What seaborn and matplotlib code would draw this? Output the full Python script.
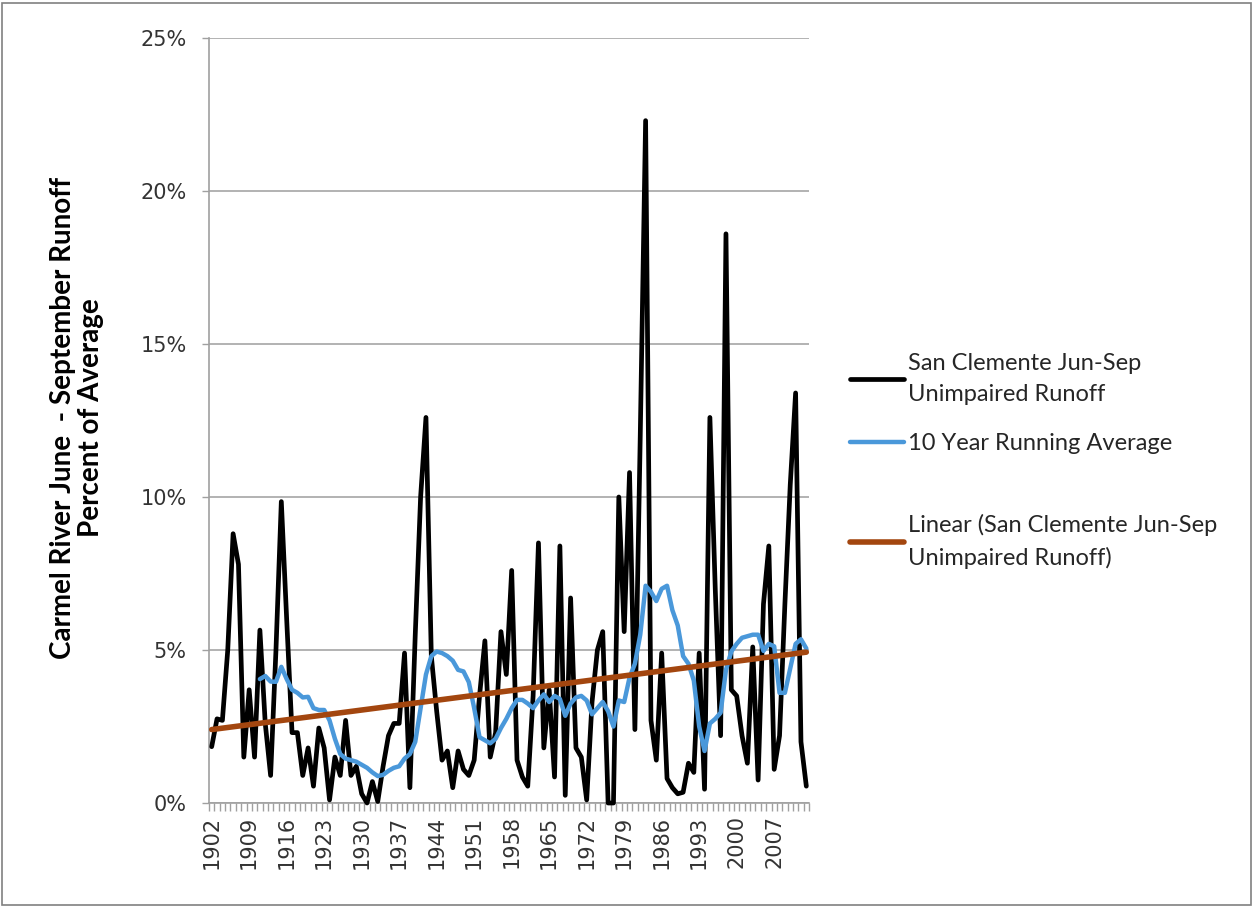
import numpy as np
import pandas as pd
import matplotlib
matplotlib.use("Agg")
import matplotlib.pyplot as plt
import matplotlib.ticker as mticker
from matplotlib.patches import Rectangle
import seaborn as sns

# Datos (porcentaje del promedio)
years = list(range(1902, 2014))
runoff_pct = [
    1.84, 2.75, 2.7, 5.0, 8.8, 7.8, 1.5, 3.7, 1.5, 5.65,
    2.6, 0.9, 5.0, 9.85, 6.0, 2.3, 2.3, 0.9, 1.8, 0.55,
    2.45, 1.8, 0.1, 1.5, 0.9, 2.7, 0.9, 1.2, 0.3, 0.0,
    0.7, 0.05, 1.2, 2.2, 2.6, 2.6, 4.9, 0.5, 5.5, 10.0,
    12.6, 4.8, 3.0, 1.4, 1.7, 0.5, 1.7, 1.1, 0.9, 1.4,
    3.5, 5.3, 1.5, 2.3, 5.6, 4.2, 7.6, 1.4, 0.85, 0.55,
    3.5, 8.5, 1.8, 3.7, 0.85, 8.4, 0.25, 6.7, 1.8, 1.5,
    0.1, 3.3, 5.0, 5.6, 0.0, 0.0, 10.0, 5.6, 10.8, 2.4,
    12.0, 22.3, 2.7, 1.4, 4.9, 0.8, 0.5, 0.3, 0.35, 1.3,
    1.0, 4.9, 0.45, 12.6, 7.0, 2.2, 18.6, 3.7, 3.5, 2.2,
    1.3, 5.1, 0.75, 6.5, 8.4, 1.1, 2.2, 6.5, 10.4, 13.4,
    2.0, 0.55,
]

avg_years = list(range(1911, 2014))
running_avg_pct = [
    4.05, 4.15, 3.97, 3.96, 4.45, 4.05, 3.7, 3.6, 3.45, 3.47,
    3.1, 3.04, 3.04, 2.7, 2.1, 1.6, 1.45, 1.4, 1.35, 1.25,
    1.15, 1.0, 0.88, 0.92, 1.05, 1.15, 1.2, 1.45, 1.6, 2.0,
    3.1, 4.2, 4.8, 4.95, 4.9, 4.8, 4.65, 4.35, 4.3, 3.95,
    3.1, 2.15, 2.05, 1.95, 2.1, 2.45, 2.75, 3.1, 3.37, 3.37,
    3.25, 3.1, 3.35, 3.55, 3.3, 3.5, 3.4, 2.85, 3.25, 3.45,
    3.5, 3.35, 2.9, 3.1, 3.3, 3.0, 2.5, 3.35, 3.3, 4.1,
    4.55, 5.5, 7.1, 6.9, 6.6, 7.0, 7.1, 6.3, 5.8, 4.8,
    4.55, 4.0, 2.5, 1.7, 2.6, 2.75, 2.95, 4.35, 4.95, 5.2,
    5.4, 5.45, 5.5, 5.5, 4.97, 5.2, 5.12, 3.6, 3.6, 4.4,
    5.2, 5.35, 5.05,
]

trend_years = [1902, 2013]
trend_pct = [2.4, 4.93]

label_years = list(range(1902, 2014, 7))

lbl_runoff = "San Clemente Jun-Sep\nUnimpaired Runoff"
lbl_avg = "10 Year Running Average"
lbl_trend = "Linear (San Clemente Jun-Sep\nUnimpaired Runoff)"

sns.set_theme(style="white")
plt.rcParams["font.family"] = ["DejaVu Sans"]

W, H = 1254, 907
fig = plt.figure(figsize=(W / 100, H / 100), dpi=100)
ax = fig.add_axes([209 / W, 1 - 803 / H, 600 / W, 765 / H])

df_runoff = pd.DataFrame({"year": years, "pct": runoff_pct})
df_avg = pd.DataFrame({"year": avg_years, "pct": running_avg_pct})
df_trend = pd.DataFrame({"year": trend_years, "pct": trend_pct})

sns.lineplot(data=df_runoff, x="year", y="pct", ax=ax, color="black",
             linewidth=3.4, label=lbl_runoff, clip_on=False, zorder=3)
sns.lineplot(data=df_avg, x="year", y="pct", ax=ax, color="#4A98DA",
             linewidth=3.2, label=lbl_avg, zorder=4)
sns.lineplot(data=df_trend, x="year", y="pct", ax=ax, color="#A3460F",
             linewidth=4.0, label=lbl_trend, zorder=5)

ax.set_xlim(1901.5, 2013.5)
ax.set_ylim(0, 25)
ax.set_xlabel("")
ax.set_ylabel("")

ax.yaxis.set_major_locator(mticker.MultipleLocator(5))
ax.yaxis.set_major_formatter(mticker.PercentFormatter(100, decimals=0))
ax.set_xticks(label_years)
ax.set_xticklabels([str(y) for y in label_years], rotation=90)
ax.set_xticks(np.arange(1901.5, 2014, 1.0), minor=True)

ax.tick_params(axis="y", which="major", left=True, direction="out", length=5,
               width=1, color="#A0A0A0", pad=11, labelsize=15, labelcolor="#333333")
ax.tick_params(axis="x", which="major", bottom=False, length=0, pad=9,
               labelsize=15, labelcolor="#333333")
ax.tick_params(axis="x", which="minor", bottom=True, direction="out", length=6,
               width=1, color="#A0A0A0")

ax.yaxis.grid(True, color="#A6A6A6", linewidth=1.2)
ax.xaxis.grid(False)
ax.set_axisbelow(True)
for side in ["top", "right"]:
    ax.spines[side].set_visible(False)
for side in ["left", "bottom"]:
    ax.spines[side].set_color("#A0A0A0")
    ax.spines[side].set_linewidth(1.2)

fig.text(77 / W, 1 - 418 / H, "Carmel River June  - September Runoff\nPercent of Average",
         rotation=90, ha="center", va="center", multialignment="center",
         fontsize=20, fontweight="bold", family=["Lato", "DejaVu Sans"],
         color="black", linespacing=1.05)

# leyenda en dos bloques para respetar el espaciado del original
handles, labels = ax.get_legend_handles_labels()
ax.get_legend().remove()
leg_font = {"family": ["Lato", "DejaVu Sans"], "size": 17}
leg1 = fig.legend(handles[:2], labels[:2], loc="upper left",
                  bbox_to_anchor=(838 / W, 1 - 341 / H), frameon=False,
                  prop=leg_font, handlelength=2.3, handletextpad=0.15,
                  labelspacing=1.2, borderpad=0, labelcolor="#262626")
leg2 = fig.legend(handles[2:], labels[2:], loc="upper left",
                  bbox_to_anchor=(838 / W, 1 - 502 / H), frameon=False,
                  prop=leg_font, handlelength=2.3, handletextpad=0.15,
                  borderpad=0, labelcolor="#262626")
for leg in (leg1, leg2):
    for t in leg.get_texts():
        t.set_linespacing(1.6)

fig.patches.append(Rectangle((2 / W, 2 / H), 1 - 5 / W, 1 - 5 / H,
                             transform=fig.transFigure, fill=False,
                             edgecolor="#808080", linewidth=1.2))

fig.savefig("out.png", dpi=100)
